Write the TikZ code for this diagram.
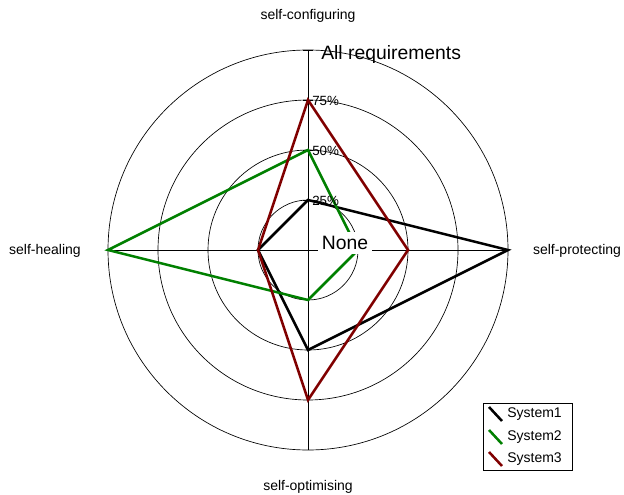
\documentclass[tikz,border=0pt]{standalone}
\usepackage{fontspec}
\setmainfont{Liberation Sans}
\definecolor{sysone}{RGB}{0,0,0}
\definecolor{systwo}{RGB}{0,128,0}
\definecolor{systhree}{RGB}{128,0,0}

\begin{document}
\begin{tikzpicture}[x=0.75pt,y=0.75pt,yscale=-1,xscale=1,
  grid/.style={line width=0.5pt},
  series/.style={line width=1.9pt,line join=miter},
  lbl/.style={font=\fontsize{10.5}{12}\selectfont,inner sep=0.75pt},
  pct/.style={font=\fontsize{10}{12}\selectfont,inner sep=0.75pt,anchor=west},
  big/.style={font=\fontsize{14.5}{17}\selectfont,inner sep=0.75pt}]
\useasboundingbox (0,0) rectangle (624,495);
\coordinate (c) at (308,250);

%Circles
\draw [grid] (c) circle (50);
\draw [grid] (c) circle (100);
\draw [grid] (c) circle (150);
\draw [grid] (c) circle (200);

%Axes
\draw [grid] (308,50) -- (308,450);
\draw [grid] (108,250) -- (508,250);
%Ticks
\foreach \y in {50,100,150,200,250} \draw [grid] (303,\y) -- (313,\y);

%System1
\draw [series,sysone] (308,200) -- (508,250) -- (308,350) -- (258,250) -- cycle;
%System2
\draw [series,systwo] (308,150) -- (358,250) -- (308,300) -- (108,250) -- cycle;
%System3
\draw [series,systhree] (308,100) -- (408,250) -- (308,400) -- (258,250) -- cycle;

% Scale labels
\node (none) [big,fill=white,inner sep=3pt] at (345,243) {None};
\node (all) [big,anchor=west] at (320,55) {All requirements};
\node (p75) [pct] at (311,101) {75\%};
\node (p50) [pct] at (311,151) {50\%};
\node (p25) [pct] at (311,201) {25\%};

% Axis labels
\node (conf) [lbl] at (308,16) {self-configuring};
\node (prot) [lbl] at (577,251) {self-protecting};
\node (heal) [lbl] at (45,251) {self-healing};
\node (opt) [lbl] at (308,487) {self-optimising};

% Legend
\draw [grid] (483,403) rectangle (572,470);
\draw [series,sysone] (489,407) -- (502,421);
\node (leg1) [lbl,anchor=west] at (506,414) {System1};
\draw [series,systwo] (489,430) -- (502,444);
\node (leg2) [lbl,anchor=west] at (506,437) {System2};
\draw [series,systhree] (489,452) -- (502,466);
\node (leg3) [lbl,anchor=west] at (506,459) {System3};
\end{tikzpicture}
\end{document}
